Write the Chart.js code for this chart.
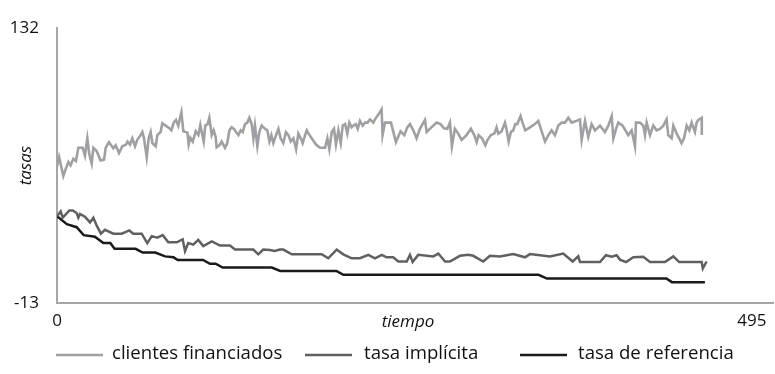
<!DOCTYPE html>
<html>
<head>
<meta charset="utf-8">
<script src="https://cdn.jsdelivr.net/npm/chart.js@4"></script>
<style>
  html, body { margin: 0; padding: 0; background: #fff; }
  #wrap { width: 775px; height: 374px; position: relative; }
</style>
</head>
<body>
<div id="wrap"><canvas id="c" width="775" height="374"></canvas></div>
<script>
// ---- data ----
const seriesNames = ["clientes financiados", "tasa implícita", "tasa de referencia"];
const xTickLabels = [0, 495];
const yTickLabels = [-13, 132];
const xTitle = "tiempo";
const yTitle = "tasas";

const tClientes = [0,1.5,4.5,6.4,8.1,9.7,11.6,13.5,15.2,18.3,19.9,21.6,23,24.7,25.9,28.2,31.1,33.5,34.7,37,40.1,41.8,44.2,46.5,49.2,50.3,52,53.7,55.6,57.2,59.6,60.8,62,63.9,65.3,66.7,67.9,70.3,71.5,73.8,75,77.4,79.8,81.5,83.1,84.8,86.4,88.6,90,92.9,93.8,95,96.7,98.8,100.7,102.1,103.3,104.5,105.6,107.3,108.5,110.2,111.6,113,113.7,116.1,
117.3,119.7,121.3,122.8,124.4,126.1,127.5,129.2,130.8,132.3,133.9,135.6,137,138.7,139.9,141,142.7,144.1,145.8,148.2,149.8,151.3,152.7,154.1,156,157.7,159.3,161.2,163.1,164.8,166.5,168.4,170.3,171.9,173.6,175,176.7,177.9,179.8,181.4,184.5,187.3,190.9,192.6,194,195.7,197.3,198.7,200.4,202.1,203.5,205.2,206.8,208.2,209.9,211.1,212.8,214.2,215.8,217.7,219.4,221.1,223,225.3,226.5,228.9,
231.2,231.9,233.6,237.9,241.4,244.7,247.4,249.5,251.4,253.8,256.1,258.5,262.1,263.3,265.6,268,270.4,273.2,275.6,278,279.9,281.3,283.4,285.8,288.2,291.7,294.8,297.2,298.9,300.3,302.7,305.1,306.7,309.1,311.5,313.1,314.3,316.7,319.1,320.2,321.7,323.3,325,326.4,327.8,330.2,331.6,333.5,336.9,340.4,342.8,
347.6,350,352.3,354.7,357.1,359.5,361.8,364.2,366.6,370.1,372.5,373.7,376.1,378.4,380.8,383.2,386.8,390.3,392.7,395.1,396.3,398.2,399.8,402.9,406.9,409.3,411.7,412.4,415.2,417.6,418.8,420,422.4,424.7,427.1,429.5,431.9,434.2,435.4,437.8,439,441.4,444.9,446.6,448.5,450.4,452,454.4,455.6,456.8,459.2,459.3];
const vClientes = [59,64,54,58,61.4,59.7,63.1,61.9,68.9,68.9,64.7,73.9,65.6,60.6,68.9,67.2,62.2,62.6,68.9,71.9,68.6,70.2,66.1,69.7,70.6,72.2,70.6,73.9,69.7,73.1,75.6,77.2,73.9,63.9,73.9,77.2,71.4,69.7,75.6,77.2,81.9,80.6,79.4,78.1,82.2,83.6,80.6,87.6,77.6,76.9,70.6,74.2,72.2,77.6,75.6,80.9,76.4,72.2,80.6,81.4,84.7,75.6,78.1,74.7,69.2,70.6,
72.2,68.9,71.4,78.1,79.7,78.9,77.2,75.6,78.1,77.2,81.4,82.2,84.7,81.4,73.9,80.6,69.7,77.2,80.6,78.9,78.1,72.2,75.6,71.4,75.6,78.9,73.9,71.4,77.2,75.6,72.2,73.9,68.1,76.4,73.9,71.4,75.6,78.1,75.6,73.9,70.6,68.9,68.9,73.9,68.1,77.2,78.9,70.6,78.1,71.4,80.6,81.4,76.4,82.2,79.7,80.6,81.4,78.9,83.1,80.6,82.2,82.2,83.9,82.2,83.9,86.4,
89.2,75.6,82.2,82.2,71.9,77.6,75.6,79.7,81.4,78.1,73.9,78.9,83.6,77.2,78.9,80.6,82.2,81.4,79.2,78.9,82.2,69.7,78.9,76.4,73.1,75.6,78.9,75.6,71.9,75.6,73.9,70.2,73.1,75.6,76.4,79.7,76.4,77.6,82.2,78.6,72.2,77.2,78.1,81.4,81.4,85.6,82.2,78.1,79.7,81.4,83.1,
72.2,75.6,78.1,75.6,80.6,82.2,82.2,84.7,82.2,83.1,83.9,73.1,83.1,74.7,81.4,78.1,80.6,77.2,80.6,85.6,73.9,78.9,82.2,80.6,75.6,78.1,69.7,82.2,82.2,80.6,75.6,82.2,75.6,80.6,78.1,78.9,80.6,83.9,75.6,73.9,80.6,76.4,71.4,73.9,80.6,78.1,82.2,77.2,82.2,83.6,84.7,75.6];

const tImplicita = [0,2.6,4.1,8.8,11.2,14,15.2,16.4,19.9,23.5,25.9,28.3,31.3,34.2,40.1,46.1,51.5,54.3,60.3,64.3,67.5,71.4,75.3,79.3,85.3,89.5,91.2,93.5,97.1,100.6,104.2,110.2,116.1,123.2,126.8,139.8,143.4,146.9,151.7,155,158.8,161.2,167.2,188.5,193.2,199.2,203.9,209.9,215.8,221.7,226.5,231.3,234.8,239.5,243.1,249.1,251.4,253.3,257.3,268,271.6,276.4,279.9,287,293,296.5,303.6,308.4,315.5,325,333.3,336.9,351.1,360.6,367.3,371.3,372.5,386.8,391,395.1,398.6,401,405.3,410.5,417.6,422.4,433,439,443.2,459.2,460,462.7];
const vImplicita = [32.8,35.3,32,35.8,35.8,34.5,32,34,32.5,29.5,32,27.8,23.6,25.6,23.6,23.6,25.3,23.6,23.6,18.6,22.3,21.5,22.8,19,19,20.6,14.4,18.6,17.8,20.3,17,19.5,17.3,17.3,15.2,15.2,12.7,15.2,15,14.4,15.2,15.2,12.7,12.7,10.6,15.2,12.7,10.6,10.6,12.4,10.6,12.4,11.1,11.1,8.9,8.9,12.4,8.6,12.4,11.6,13.1,8.9,8.9,11.9,12.4,11.9,8.9,11.9,11.6,12.8,11.1,12.8,11.6,13.1,8.9,11.6,8.6,8.6,12.2,11.4,12.2,9.9,8.6,11.1,11.4,8.6,8.6,11.6,8.6,8.6,5.2,8.9];

const tReferencia = [0,7,14,19,27,33,38,41,56,61,70,77,83,86,104,109,113,118,153,159,199,204,343,349,434,438,461.5];
const vReferencia = [32.8,28.6,27,22.8,22,18.6,18.6,15.6,15.6,13.6,13.6,11.6,11.1,9.7,9.7,7.7,7.7,5.7,5.7,3.9,3.9,1.9,1.9,-0.1,-0.1,-2,-2];

// ---- styles ----
const colors = ["#a0a0a4", "#606060", "#1a1a1a"];
const FONT = "'Open Sans', 'DejaVu Sans', sans-serif";
const pts = (ts, vs) => ts.map((t, i) => ({ x: t, y: vs[i] }));

const decorPlugin = {
  id: 'decor',
  afterDraw(chart) {
    const ctx = chart.ctx;
    const ys = chart.scales.y;
    ctx.save();
    ctx.fillStyle = '#111';
    ctx.font = "italic 17px " + FONT;
    ctx.textAlign = 'center';
    ctx.textBaseline = 'middle';
    ctx.fillText(xTitle, 408, 322);
    ctx.save();
    ctx.translate(26, (ys.top + ys.bottom) / 2);
    ctx.rotate(-Math.PI / 2);
    ctx.fillText(yTitle, 0, 0);
    ctx.restore();
    // legend
    const items = [
      { x1: 56, x2: 103, tx: 112 },
      { x1: 305, x2: 352, tx: 364 },
      { x1: 520, x2: 567, tx: 578 }
    ];
    ctx.font = "18.6px " + FONT;
    ctx.textAlign = 'left';
    chart.data.datasets.forEach((ds, i) => {
      const it = items[i];
      ctx.strokeStyle = ds.borderColor;
      ctx.lineWidth = 2.5;
      ctx.beginPath();
      ctx.moveTo(it.x1, 355);
      ctx.lineTo(it.x2, 355);
      ctx.stroke();
      ctx.fillStyle = '#111';
      ctx.fillText(ds.label, it.tx, 354);
    });
    ctx.restore();
  }
};

new Chart(document.getElementById('c'), {
  type: 'line',
  data: {
    datasets: [
      { label: seriesNames[0], data: pts(tClientes, vClientes), borderColor: colors[0], borderWidth: 2.6 },
      { label: seriesNames[1], data: pts(tImplicita, vImplicita), borderColor: colors[1], borderWidth: 2.5 },
      { label: seriesNames[2], data: pts(tReferencia, vReferencia), borderColor: colors[2], borderWidth: 2.5 }
    ]
  },
  options: {
    responsive: false,
    animation: false,
    elements: { point: { radius: 0, hoverRadius: 0 }, line: { tension: 0, borderJoinStyle: 'miter' } },
    layout: { padding: { top: 13, right: 2, left: 0, bottom: 0 } },
    plugins: { legend: { display: false }, tooltip: { enabled: false } },
    scales: {
      x: {
        type: 'linear', min: 0, max: 510,
        afterBuildTicks: s => { s.ticks = xTickLabels.map(v => ({ value: v })); },
        afterFit: s => { s.height = 71; },
        grid: { display: false, drawTicks: false },
        border: { display: true, color: '#a6a6a6', width: 2 },
        ticks: { color: '#111', font: { family: FONT, size: 17 }, padding: 8, maxRotation: 0, autoSkip: false }
      },
      y: {
        type: 'linear', min: -13, max: 132,
        afterBuildTicks: s => { s.ticks = yTickLabels.map(v => ({ value: v })); },
        afterFit: s => { s.width = 57; },
        grid: { display: false, drawTicks: false },
        border: { display: true, color: '#a6a6a6', width: 2 },
        ticks: { color: '#111', font: { family: FONT, size: 17 }, padding: 18, autoSkip: false }
      }
    }
  },
  plugins: [decorPlugin]
});
</script>
</body>
</html>
